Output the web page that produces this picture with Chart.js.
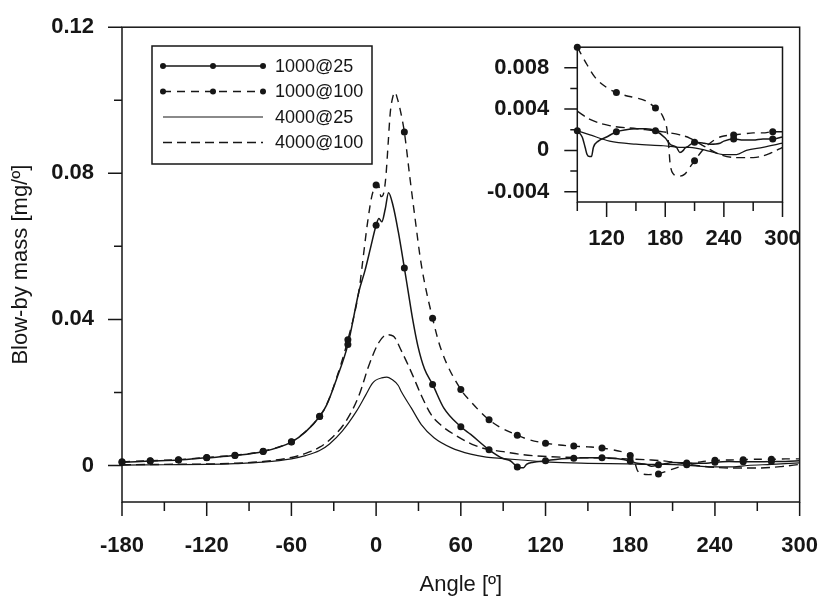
<!DOCTYPE html>
<html>
<head>
<meta charset="utf-8">
<script src="https://cdn.jsdelivr.net/npm/chart.js@4.4.1/dist/chart.umd.min.js"></script>
<style>
	body { margin: 0; background: #fff; }
	#wrap { position: relative; width: 835px; height: 603px; }
	#inset { position: absolute; left: 470px; top: 20px; }
</style>
</head>
<body>
<div id="wrap">
	<canvas id="main" width="835" height="603"></canvas>
	<canvas id="inset" width="365" height="240"></canvas>
</div>
<script>
// series data
const angles1000at25 = [-180, -160, -140, -120, -100, -80, -60, -50, -40, -35, -28, -20, -12, -8, -4, 0, 2, 4, 6.5, 8.8, 12, 15.7, 20, 22.6, 26, 29.6, 34.3, 40, 48, 60, 67, 80, 90, 95, 98, 100, 102.5, 104.5, 106.5, 111.5, 120, 130, 140, 150, 160, 170, 180, 185, 191.5, 195, 198.5, 200, 203.5, 210, 220, 226, 236, 240, 250, 260, 270, 280, 290, 300];
const blowby1000at25 = [0.0009, 0.0012, 0.0015, 0.0021, 0.0027, 0.0038, 0.0064, 0.0092, 0.0134, 0.0166, 0.0237, 0.0331, 0.0479, 0.0532, 0.0595, 0.0658, 0.0676, 0.0667, 0.0703, 0.0747, 0.0711, 0.064, 0.0541, 0.0479, 0.0398, 0.0327, 0.0264, 0.0222, 0.0157, 0.0106, 0.0085, 0.0043, 0.0019, 0.0013, 0.0003, -0.0004, -0.0006, -0.0006, 0.0003, 0.0009, 0.0013, 0.0018, 0.002, 0.0021, 0.0021, 0.0019, 0.0012, 0.0006, 0.0003, -0.0002, 0, 0.0002, 0.0004, 0.0008, 0.0007, 0.0006, 0.0007, 0.0009, 0.0011, 0.001, 0.001, 0.0011, 0.0011, 0.0013];

const angles1000at100 = [-180, -160, -140, -120, -100, -80, -60, -50, -40, -35, -28, -20, -12, -9.5, -6, -3, 0, 1.5, 3.5, 5.5, 7, 8.5, 10, 12, 13.4, 15, 17, 20, 23.8, 27.3, 32, 40, 46, 60, 67, 80, 90, 100, 108, 120, 130, 140, 150, 160, 170, 177, 180, 181.5, 183.5, 185, 188.5, 193, 200, 205.5, 210, 220, 230, 236, 240, 250, 260, 270, 280, 290, 300];
const blowby1000at100 = [0.001, 0.0013, 0.0016, 0.0022, 0.0028, 0.0039, 0.0065, 0.0093, 0.0135, 0.0167, 0.024, 0.0344, 0.0482, 0.0559, 0.0667, 0.0738, 0.0768, 0.077, 0.0736, 0.0748, 0.0795, 0.088, 0.0965, 0.1012, 0.1022, 0.1005, 0.0975, 0.0913, 0.0792, 0.0685, 0.055, 0.0403, 0.0318, 0.0208, 0.0175, 0.0125, 0.01, 0.0083, 0.0071, 0.0061, 0.0056, 0.0053, 0.0051, 0.0048, 0.0041, 0.0034, 0.0027, 0.0022, 0.0005, -0.0013, -0.0023, -0.0025, -0.0023, -0.0016, -0.001, 0.0002, 0.001, 0.0013, 0.0014, 0.0015, 0.0016, 0.0017, 0.0017, 0.0018, 0.0018];

const angles4000at25 = [-180, -150, -120, -100, -80, -60, -50, -40, -33, -24, -14, -7.5, -2.8, -0.5, 4, 7.6, 11, 15.7, 18, 25, 32, 41, 53, 67, 78, 90, 103, 123, 150, 178, 195, 205, 226, 239, 253, 263, 280, 300];
const blowby4000at25 = [0.0001, 0.0002, 0.0003, 0.0005, 0.0009, 0.0018, 0.0027, 0.0041, 0.0059, 0.0094, 0.0148, 0.0192, 0.0224, 0.0233, 0.024, 0.0242, 0.0236, 0.0219, 0.0201, 0.0157, 0.0112, 0.0076, 0.0049, 0.0031, 0.0023, 0.0019, 0.0015, 0.0009, 0.0006, 0.00045, 0.0003, 0.0003, -0.0001, -0.0004, -0.0004, 0, 0.0003, 0.0007];

const angles4000at100 = [-180, -150, -120, -100, -80, -60, -50, -40, -30.7, -21.4, -12.1, -5.2, 1.8, 7.6, 12.2, 18, 25, 32, 39, 47, 57, 68, 78, 90, 103, 123, 151, 178, 195, 205, 220, 236, 253, 270, 287, 300];
const blowby4000at100 = [0.0002, 0.0003, 0.0004, 0.0006, 0.0011, 0.0022, 0.0033, 0.005, 0.0078, 0.0121, 0.0192, 0.0273, 0.0336, 0.0358, 0.0354, 0.0313, 0.0255, 0.0192, 0.0139, 0.0107, 0.0081, 0.0058, 0.0045, 0.0038, 0.003, 0.0024, 0.0021, 0.0018, 0.0015, 0.0012, 0.0004, -0.0004, -0.0007, -0.0007, -0.0003, 0.0003];

const seriesNames = ["1000@25", "1000@100", "4000@25", "4000@100"];

// where the round markers sit
const mainMarkerAngles = [-180, -160, -140, -120, -100, -80, -60, -40, -20, 0, 20, 40, 60, 80, 100, 120, 140, 160, 180, 200, 220, 240, 260, 280];
const insetMarkerAngles = [90, 130, 170, 210, 250, 290];

// ticks
const mainXTicks = [-180, -150, -120, -90, -60, -30, 0, 30, 60, 90, 120, 150, 180, 210, 240, 270, 300];
const mainXLabels = [-180, -120, -60, 0, 60, 120, 180, 240, 300];
const mainYTicks = [0, 0.02, 0.04, 0.06, 0.08, 0.1, 0.12];
const mainYLabels = [0, 0.04, 0.08, 0.12];
const insetXTicks = [90, 120, 150, 180, 210, 240, 270, 300];
const insetXLabels = [120, 180, 240, 300];
const insetYTicks = [-0.004, -0.002, 0, 0.002, 0.004, 0.006, 0.008];
const insetYLabels = [-0.004, 0, 0.004, 0.008];

const INK = "#161616";
const FONT = "'Liberation Sans', Arial, sans-serif";

const SERIES = [
	{ angles: angles1000at25, values: blowby1000at25, width: 1.5, dash: [], markers: true },
	{ angles: angles1000at100, values: blowby1000at100, width: 1.4, dash: [8, 6], markers: true },
	{ angles: angles4000at25, values: blowby4000at25, width: 1.2, dash: [], markers: false },
	{ angles: angles4000at100, values: blowby4000at100, width: 1.4, dash: [9, 5], markers: false },
];

const hasValue = (list, v) => list.some((w) => Math.abs(w - v) < 1e-9);
const fmt = (v) => String(+v.toFixed(4));

const makeDatasets = (minAngle, markerAngles) =>
	SERIES.map((s, i) => ({
		label: seriesNames[i],
		data: s.angles.map((a, k) => ({ x: a, y: s.values[k] })).filter((p) => p.x >= minAngle),
		borderColor: INK,
		backgroundColor: INK,
		borderWidth: s.width,
		borderDash: s.dash,
		pointRadius: (c) => (s.markers && c.raw && hasValue(markerAngles, c.raw.x) ? 3.5 : 0),
		pointBorderWidth: 0,
		pointHoverRadius: 0,
		cubicInterpolationMode: "monotone",
		clip: false,
		fill: false,
	}));

const makeAxis = (tickList, labelList, min, max, fontSize, padding, fit) => ({
	type: "linear",
	min,
	max,
	afterBuildTicks: (scale) => {
		scale.ticks = tickList.map((v) => ({ value: v }));
	},
	afterFit: fit,
	grid: { drawOnChartArea: false, drawTicks: true, tickLength: 14, tickColor: "transparent" },
	border: { display: false },
	ticks: {
		autoSkip: false,
		maxRotation: 0,
		padding,
		color: INK,
		font: { family: FONT, size: fontSize, weight: "bold" },
		callback: (v) => (hasValue(labelList, v) ? fmt(v) : ""),
	},
});

// box round the plot plus major/minor tick marks
const frameTicks = {
	id: "frameTicks",
	afterDraw(chart, args, opts) {
		const { ctx, chartArea: a, scales } = chart;
		ctx.save();
		ctx.strokeStyle = INK;
		ctx.lineWidth = 1.5;
		ctx.strokeRect(a.left, a.top, a.right - a.left, a.bottom - a.top);
		ctx.beginPath();
		scales.x.ticks.forEach((t) => {
			const px = scales.x.getPixelForValue(t.value);
			const len = hasValue(opts.xLabels, t.value) ? opts.xMajor : opts.xMinor;
			ctx.moveTo(px, a.bottom);
			ctx.lineTo(px, a.bottom + len);
		});
		scales.y.ticks.forEach((t) => {
			const py = scales.y.getPixelForValue(t.value);
			const len = hasValue(opts.yLabels, t.value) ? opts.yMajor : opts.yMinor;
			ctx.moveTo(a.left, py);
			ctx.lineTo(a.left - len, py);
		});
		ctx.stroke();
		ctx.restore();
	},
};

const legendBox = {
	id: "legendBox",
	afterDatasetsDraw(chart) {
		const ctx = chart.ctx;
		ctx.save();
		ctx.strokeStyle = INK;
		ctx.fillStyle = INK;
		ctx.lineWidth = 1.5;
		ctx.strokeRect(152, 46, 220, 118);
		ctx.font = `18px ${FONT}`;
		ctx.textBaseline = "middle";
		chart.data.datasets.forEach((ds, i) => {
			const y = 66 + i * 25.5;
			ctx.lineWidth = ds.borderWidth;
			ctx.setLineDash(ds.borderDash);
			ctx.beginPath();
			ctx.moveTo(163, y);
			ctx.lineTo(263, y);
			ctx.stroke();
			ctx.setLineDash([]);
			if (SERIES[i].markers) {
				[163, 213, 263].forEach((x) => {
					ctx.beginPath();
					ctx.arc(x, y, 3, 0, Math.PI * 2);
					ctx.fill();
				});
			}
			ctx.fillText(ds.label, 275, y + 1);
		});
		ctx.restore();
	},
};

const titleFont = { family: FONT, size: 22 };

new Chart(document.getElementById("main"), {
	type: "line",
	data: { datasets: makeDatasets(-180, mainMarkerAngles) },
	options: {
		responsive: false,
		animation: false,
		events: [],
		layout: { padding: { top: 19, right: 23, left: 0, bottom: 0 } },
		plugins: {
			legend: { display: false },
			tooltip: { enabled: false },
			frameTicks: { xLabels: mainXLabels, yLabels: mainYLabels, xMajor: 14, xMinor: 9, yMajor: 14, yMinor: 8 },
		},
		scales: {
			x: {
				...makeAxis(mainXTicks, mainXLabels, -180, 300, 22, 17, (s) => { s.height = 101; }),
				title: { display: true, text: "Angle [º]", color: INK, font: titleFont, padding: { top: 0, bottom: 5 } },
			},
			y: {
				...makeAxis(mainYTicks, mainYLabels, -0.01, 0.12, 22, 14, (s) => { s.width = 122; }),
				title: { display: true, text: "Blow-by mass [mg/º]", color: INK, font: titleFont, padding: { top: 8, bottom: 0 } },
			},
		},
	},
	plugins: [frameTicks, legendBox],
});

new Chart(document.getElementById("inset"), {
	type: "line",
	data: { datasets: makeDatasets(90, insetMarkerAngles) },
	options: {
		responsive: false,
		animation: false,
		events: [],
		layout: { padding: { top: 14, right: 52.5, left: 0, bottom: 0 } },
		plugins: {
			legend: { display: false },
			tooltip: { enabled: false },
			frameTicks: { xLabels: insetXLabels, yLabels: insetYLabels, xMajor: 15, xMinor: 9, yMajor: 13, yMinor: 7 },
		},
		scales: {
			x: makeAxis(insetXTicks, insetXLabels, 90, 300, 22, 10, (s) => { s.height = 58; }),
			y: makeAxis(insetYTicks, insetYLabels, -0.005, 0.01, 22, 14, (s) => { s.width = 107.3; }),
		},
	},
	plugins: [frameTicks],
});
</script>
</body>
</html>
